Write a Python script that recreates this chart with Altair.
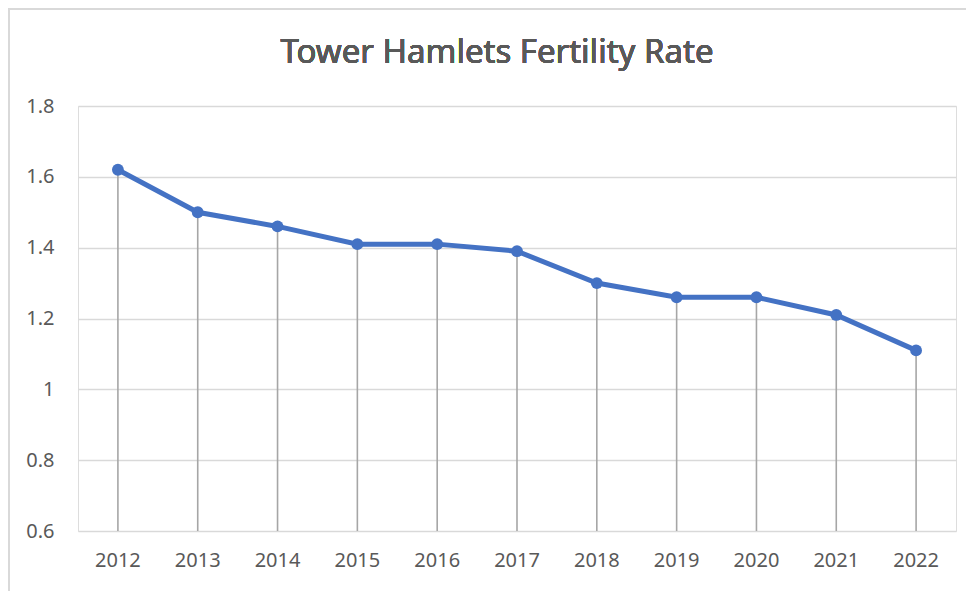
import altair as alt
import pandas as pd

years = ["2012", "2013", "2014", "2015", "2016", "2017", "2018", "2019", "2020", "2021", "2022"]
rates = [1.62, 1.50, 1.46, 1.41, 1.41, 1.39, 1.30, 1.26, 1.26, 1.21, 1.11]
y_ticks = [0.6, 0.8, 1.0, 1.2, 1.4, 1.6, 1.8]
title_text = "Tower Hamlets Fertility Rate"

df = pd.DataFrame({"year": years, "rate": rates, "base": [0.6] * len(years)})

FONT = "Noto Sans"
GRAY = "#595959"

x_enc = alt.X("year:N", sort=years, title=None,
              scale=alt.Scale(paddingInner=0, paddingOuter=0),
              axis=alt.Axis(labelAngle=0, ticks=False, domain=False, grid=False,
                            labelFontSize=20, labelColor=GRAY, labelFont=FONT,
                            labelPadding=19))
y_scale = alt.Scale(domain=[0.6, 1.8], nice=False, zero=False)
y_axis = alt.Axis(values=y_ticks, ticks=False, domain=False, gridColor="#d9d9d9",
                  gridWidth=1.3, labelFontSize=20, labelColor=GRAY, labelFont=FONT,
                  labelPadding=24,
                  labelExpr="datum.value == 1 ? '1' : format(datum.value, '.1f')")

base = alt.Chart(df)

frame = base.mark_rect(fill=None, stroke="#d9d9d9", strokeWidth=1.5, clip=False).encode(
    x=alt.value(-69), x2=alt.value(900), y=alt.value(-97), y2=alt.value(540)
)

title = base.mark_text(font=FONT, fontSize=33, fontWeight="normal", color=GRAY,
                       align="center", baseline="alphabetic").encode(
    x=alt.value(419), y=alt.value(-43), text=alt.value(title_text)
)

drops = base.mark_rule(color="#a6a6a6", strokeWidth=1.6).encode(
    x=x_enc,
    y=alt.Y("rate:Q", scale=y_scale, axis=y_axis, title=None),
    y2="base:Q",
)

line = base.mark_line(color="#4472C4", strokeWidth=5).encode(
    x=alt.X("year:N", sort=years),
    y=alt.Y("rate:Q", scale=y_scale),
)

points = base.mark_circle(color="#4472C4", size=140, opacity=1).encode(
    x=alt.X("year:N", sort=years),
    y=alt.Y("rate:Q", scale=y_scale),
)

chart = alt.layer(frame, title, drops, line, points).properties(
    width=878,
    height=425,
    padding={"left": 70, "top": 98, "right": 10, "bottom": 70},
    autosize=alt.AutoSizeParams(type="none"),
).configure_view(stroke=None).configure(background="white")

chart.save("out.html", embed_options={"renderer": "svg", "actions": False})
